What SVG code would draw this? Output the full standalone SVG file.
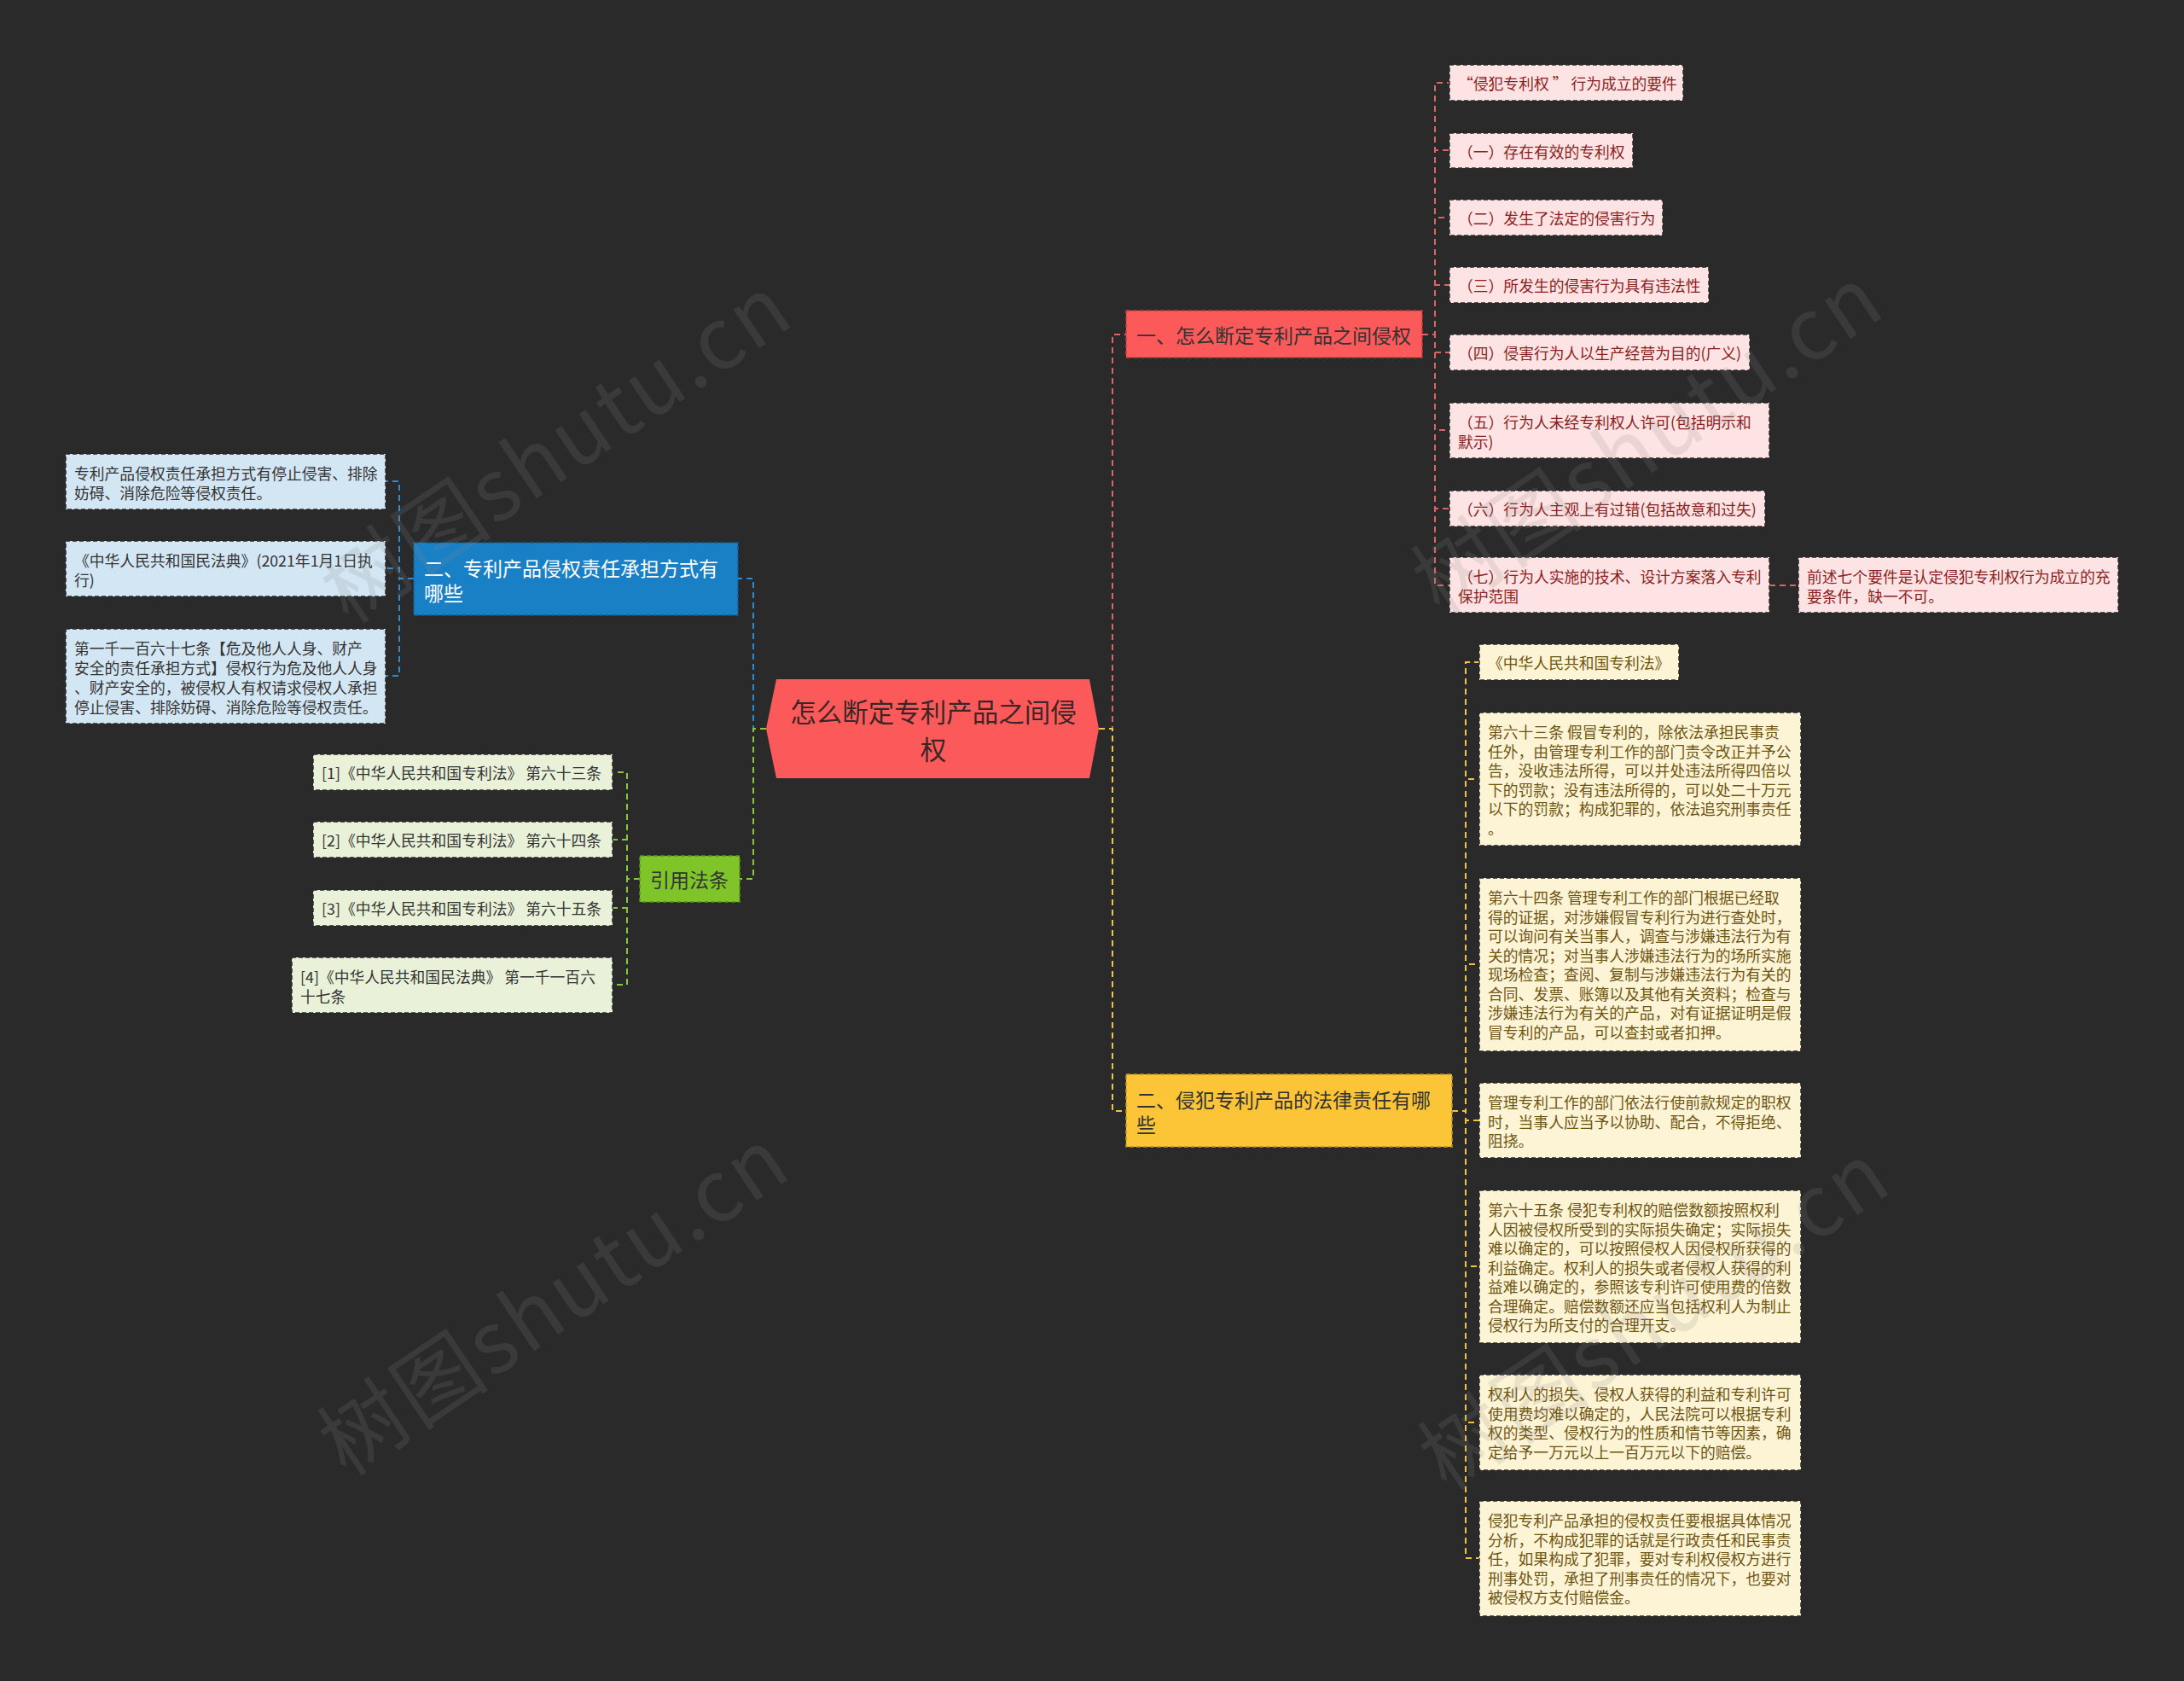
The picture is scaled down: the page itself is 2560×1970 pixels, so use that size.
<svg xmlns="http://www.w3.org/2000/svg" width="2560" height="1970" viewBox="0 0 2560 1970">
<style>
text{font-family:"Noto Sans CJK SC","Microsoft YaHei","Noto Sans",sans-serif;dominant-baseline:central}
.root{font-size:30.5px;fill:#3a2626}
.bt{font-size:23px;fill:#333}
.bw{font-size:23px;fill:#ffffff}
.ct{font-size:17.8px}
.box{stroke:#2a2a2a;stroke-width:1.5;stroke-dasharray:5 3}
.rb{fill:#fde3e3}.rt{fill:#8b1e1e}
.ub{fill:#d3e6f4}.ut{fill:#333}
.gb{fill:#e9f2d8}.gt{fill:#333}
.yb{fill:#fdf4d6}.yt{fill:#6e5512}
.lk{fill:none;stroke-width:2;stroke-dasharray:7 5}
.lr{stroke:#e06262}.lu{stroke:#2a8bd2}.lg{stroke:#86c83a}.ly{stroke:#f2c43d}
.wm{font-size:100px;fill:#8a8a8a;opacity:0.17;letter-spacing:3px;text-anchor:middle}
</style>
<rect x="0" y="0" width="2560" height="1970" fill="#2a2a2a"/>

<g id="connectors">
<path class="lk lr" d="M1288,854H1304V392H1320"/>
<path class="lk ly" d="M1288,854H1304V1302H1320"/>
<path class="lk lu" d="M898,854H883V678H865"/>
<path class="lk lg" d="M898,854H883V1030H867"/>
<path class="lk lr" d="M1667,392H1682V97H1699"/>
<path class="lk lr" d="M1667,392H1682V176H1699"/>
<path class="lk lr" d="M1667,392H1682V255H1699"/>
<path class="lk lr" d="M1667,392H1682V334H1699"/>
<path class="lk lr" d="M1667,392H1682V413H1699"/>
<path class="lk lr" d="M1667,392H1682V504H1699"/>
<path class="lk lr" d="M1667,392H1682V596H1699"/>
<path class="lk lr" d="M1667,392H1682V686H1699"/>
<path class="lk lr" d="M2074,686H2108"/>
<path class="lk lu" d="M485,678H468V564H452"/>
<path class="lk lu" d="M485,678H468V666H452"/>
<path class="lk lu" d="M485,678H468V792H452"/>
<path class="lk lg" d="M750,1030H735V905H718"/>
<path class="lk lg" d="M750,1030H735V984H718"/>
<path class="lk lg" d="M750,1030H735V1064H718"/>
<path class="lk lg" d="M750,1030H735V1154H718"/>
<path class="lk ly" d="M1702,1302H1718V776H1734"/>
<path class="lk ly" d="M1702,1302H1718V913H1734"/>
<path class="lk ly" d="M1702,1302H1718V1130H1734"/>
<path class="lk ly" d="M1702,1302H1718V1313H1734"/>
<path class="lk ly" d="M1702,1302H1718V1484H1734"/>
<path class="lk ly" d="M1702,1302H1718V1667H1734"/>
<path class="lk ly" d="M1702,1302H1718V1826H1734"/>
</g>

<g id="root">
<polygon points="910,796 1277,796 1288,854 1277,912 910,912 898,854" fill="#fc5a5a"/>
<text class="root" text-anchor="middle"><tspan x="1094" y="833">怎么断定专利产品之间侵</tspan><tspan x="1094" y="877">权</tspan></text>
</g>

<g id="branch1">
<rect x="1320" y="364" width="347" height="55" fill="#fc5a5a" stroke="#c23c3c" stroke-width="1.5" stroke-dasharray="5 3"/>
<text class="bt" x="1332" y="392">一、怎么断定专利产品之间侵权</text>
</g>
<g id="branch2">
<rect x="485" y="636" width="380" height="85" fill="#1a80c6" stroke="#0f5e96" stroke-width="1.5" stroke-dasharray="5 3"/>
<text class="bw"><tspan x="497" y="665">二、专利产品侵权责任承担方式有</tspan><tspan x="497" y="694">哪些</tspan></text>
</g>
<g id="branch3">
<rect x="750" y="1003" width="117" height="54" fill="#7fc52a" stroke="#5b9418" stroke-width="1.5" stroke-dasharray="5 3"/>
<text class="bt" x="762" y="1030">引用法条</text>
</g>
<g id="branch4">
<rect x="1320" y="1259" width="382" height="85" fill="#fcc537" stroke="#c09420" stroke-width="1.5" stroke-dasharray="5 3"/>
<text class="bt"><tspan x="1332" y="1288">二、侵犯专利产品的法律责任有哪</tspan><tspan x="1332" y="1317">些</tspan></text>
</g>

<g id="a1"><rect class="box rb" x="1699" y="76" width="274" height="42"/><text class="ct rt" x="1709" y="97">“侵犯专利权 ” 行为成立的要件</text></g>
<g id="a2"><rect class="box rb" x="1699" y="156" width="215" height="41"/><text class="ct rt" x="1709" y="176.5">（一）存在有效的专利权</text></g>
<g id="a3"><rect class="box rb" x="1699" y="234" width="250" height="42"/><text class="ct rt" x="1709" y="255">（二）发生了法定的侵害行为</text></g>
<g id="a4"><rect class="box rb" x="1699" y="313" width="304" height="42"/><text class="ct rt" x="1709" y="334">（三）所发生的侵害行为具有违法性</text></g>
<g id="a5"><rect class="box rb" x="1699" y="392" width="352" height="42"/><text class="ct rt" x="1709" y="413">（四）侵害行为人以生产经营为目的(广义)</text></g>
<g id="a6"><rect class="box rb" x="1699" y="472" width="375" height="65"/><text class="ct rt"><tspan x="1709" y="494">（五）行为人未经专利权人许可(包括明示和</tspan><tspan x="1709" y="517">默示)</tspan></text></g>
<g id="a7"><rect class="box rb" x="1699" y="575" width="370" height="42"/><text class="ct rt" x="1709" y="596">（六）行为人主观上有过错(包括故意和过失)</text></g>
<g id="a8"><rect class="box rb" x="1699" y="653" width="375" height="65"/><text class="ct rt"><tspan x="1709" y="675">（七）行为人实施的技术、设计方案落入专利</tspan><tspan x="1709" y="698">保护范围</tspan></text></g>
<g id="a9"><rect class="box rb" x="2108" y="653" width="375" height="65"/><text class="ct rt"><tspan x="2118" y="675">前述七个要件是认定侵犯专利权行为成立的充</tspan><tspan x="2118" y="698">要条件，缺一不可。</tspan></text></g>

<g id="b1"><rect class="box ub" x="77" y="532" width="375" height="65"/><text class="ct ut"><tspan x="87" y="554">专利产品侵权责任承担方式有停止侵害、排除</tspan><tspan x="87" y="577">妨碍、消除危险等侵权责任。</tspan></text></g>
<g id="b2"><rect class="box ub" x="77" y="634" width="375" height="65"/><text class="ct ut"><tspan x="87" y="656">《中华人民共和国民法典》(2021年1月1日执</tspan><tspan x="87" y="679">行)</tspan></text></g>
<g id="b3"><rect class="box ub" x="77" y="737" width="375" height="111"/><text class="ct ut"><tspan x="87" y="759">第一千一百六十七条【危及他人人身、财产</tspan><tspan x="87" y="782">安全的责任承担方式】侵权行为危及他人人身</tspan><tspan x="87" y="805">、财产安全的，被侵权人有权请求侵权人承担</tspan><tspan x="87" y="828">停止侵害、排除妨碍、消除危险等侵权责任。</tspan></text></g>

<g id="c1"><rect class="box gb" x="367" y="884" width="351" height="42"/><text class="ct gt" x="377" y="905">[1]《中华人民共和国专利法》 第六十三条</text></g>
<g id="c2"><rect class="box gb" x="367" y="963" width="351" height="42"/><text class="ct gt" x="377" y="984">[2]《中华人民共和国专利法》 第六十四条</text></g>
<g id="c3"><rect class="box gb" x="367" y="1043" width="351" height="42"/><text class="ct gt" x="377" y="1064">[3]《中华人民共和国专利法》 第六十五条</text></g>
<g id="c4"><rect class="box gb" x="342" y="1122" width="376" height="65"/><text class="ct gt"><tspan x="352" y="1144">[4]《中华人民共和国民法典》 第一千一百六</tspan><tspan x="352" y="1167">十七条</tspan></text></g>

<g id="d1"><rect class="box yb" x="1734" y="755" width="234" height="42"/><text class="ct yt" x="1744" y="776">《中华人民共和国专利法》</text></g>
<g id="d2"><rect class="box yb" x="1734" y="835" width="377" height="156"/><text class="ct yt"><tspan x="1744" y="857">第六十三条 假冒专利的，除依法承担民事责</tspan><tspan x="1744" y="879.5">任外，由管理专利工作的部门责令改正并予公</tspan><tspan x="1744" y="902">告，没收违法所得，可以并处违法所得四倍以</tspan><tspan x="1744" y="924.5">下的罚款；没有违法所得的，可以处二十万元</tspan><tspan x="1744" y="947">以下的罚款；构成犯罪的，依法追究刑事责任</tspan><tspan x="1744" y="969.5">。</tspan></text></g>
<g id="d3"><rect class="box yb" x="1734" y="1029" width="377" height="203"/><text class="ct yt"><tspan x="1744" y="1051">第六十四条 管理专利工作的部门根据已经取</tspan><tspan x="1744" y="1073.5">得的证据，对涉嫌假冒专利行为进行查处时，</tspan><tspan x="1744" y="1096">可以询问有关当事人，调查与涉嫌违法行为有</tspan><tspan x="1744" y="1118.5">关的情况；对当事人涉嫌违法行为的场所实施</tspan><tspan x="1744" y="1141">现场检查；查阅、复制与涉嫌违法行为有关的</tspan><tspan x="1744" y="1163.5">合同、发票、账簿以及其他有关资料；检查与</tspan><tspan x="1744" y="1186">涉嫌违法行为有关的产品，对有证据证明是假</tspan><tspan x="1744" y="1208.5">冒专利的产品，可以查封或者扣押。</tspan></text></g>
<g id="d4"><rect class="box yb" x="1734" y="1269" width="377" height="88"/><text class="ct yt"><tspan x="1744" y="1291">管理专利工作的部门依法行使前款规定的职权</tspan><tspan x="1744" y="1313.5">时，当事人应当予以协助、配合，不得拒绝、</tspan><tspan x="1744" y="1336">阻挠。</tspan></text></g>
<g id="d5"><rect class="box yb" x="1734" y="1395" width="377" height="179"/><text class="ct yt"><tspan x="1744" y="1417">第六十五条 侵犯专利权的赔偿数额按照权利</tspan><tspan x="1744" y="1439.5">人因被侵权所受到的实际损失确定；实际损失</tspan><tspan x="1744" y="1462">难以确定的，可以按照侵权人因侵权所获得的</tspan><tspan x="1744" y="1484.5">利益确定。权利人的损失或者侵权人获得的利</tspan><tspan x="1744" y="1507">益难以确定的，参照该专利许可使用费的倍数</tspan><tspan x="1744" y="1529.5">合理确定。赔偿数额还应当包括权利人为制止</tspan><tspan x="1744" y="1552">侵权行为所支付的合理开支。</tspan></text></g>
<g id="d6"><rect class="box yb" x="1734" y="1611" width="377" height="112"/><text class="ct yt"><tspan x="1744" y="1633">权利人的损失、侵权人获得的利益和专利许可</tspan><tspan x="1744" y="1655.5">使用费均难以确定的，人民法院可以根据专利</tspan><tspan x="1744" y="1678">权的类型、侵权行为的性质和情节等因素，确</tspan><tspan x="1744" y="1700.5">定给予一万元以上一百万元以下的赔偿。</tspan></text></g>
<g id="d7"><rect class="box yb" x="1734" y="1759" width="377" height="135"/><text class="ct yt"><tspan x="1744" y="1781">侵犯专利产品承担的侵权责任要根据具体情况</tspan><tspan x="1744" y="1803.5">分析，不构成犯罪的话就是行政责任和民事责</tspan><tspan x="1744" y="1826">任，如果构成了犯罪，要对专利权侵权方进行</tspan><tspan x="1744" y="1848.5">刑事处罚，承担了刑事责任的情况下，也要对</tspan><tspan x="1744" y="1871">被侵权方支付赔偿金。</tspan></text></g>

<g id="watermarks">
<text class="wm" transform="translate(648,519) rotate(-34)" x="0" y="0">树图shutu.cn</text>
<text class="wm" transform="translate(1927,508) rotate(-34)" x="0" y="0">树图shutu.cn</text>
<text class="wm" transform="translate(645,1518) rotate(-34)" x="0" y="0">树图shutu.cn</text>
<text class="wm" transform="translate(1935,1535) rotate(-34)" x="0" y="0">树图shutu.cn</text>
</g>
</svg>
